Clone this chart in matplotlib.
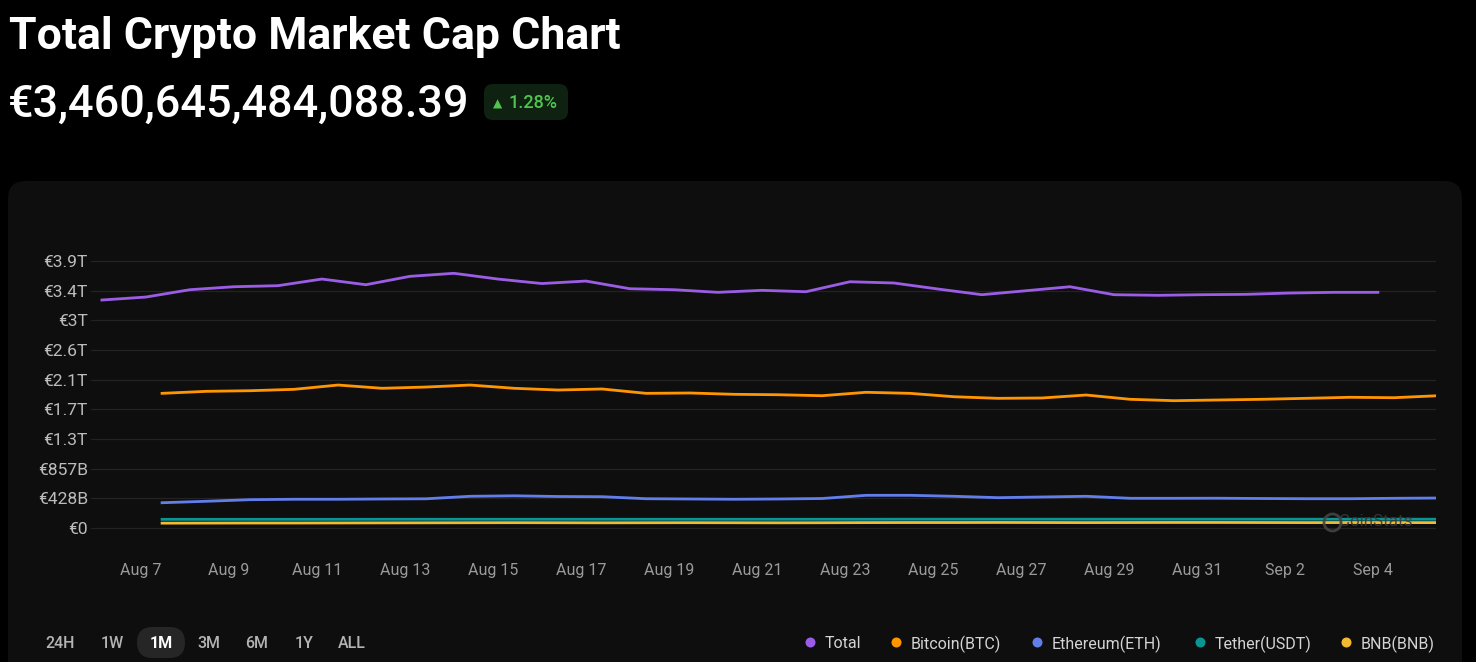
import matplotlib
matplotlib.use("Agg")
import matplotlib.pyplot as plt
import matplotlib.dates as mdates
from matplotlib.patches import FancyBboxPatch
from matplotlib.lines import Line2D
import pandas as pd

plt.rcParams['font.family'] = ['Roboto', 'DejaVu Sans']

# ---------------- data ----------------
title = "Total Crypto Market Cap Chart"
price_text = "€3,460,645,484,088.39"
change_text = "1.28%"

series_names = ["Total", "Bitcoin(BTC)", "Ethereum(ETH)", "Tether(USDT)", "BNB(BNB)"]
series_colors = ["#9b5de5", "#ff9500", "#627eea", "#0a9592", "#f3ba2f"]

total_dates = pd.date_range("2025-08-06 02:40", periods=30, freq="D")
coin_dates = pd.date_range("2025-08-07 11:30", periods=30, freq="D")

total_T = [3.293, 3.336, 3.442, 3.485, 3.500, 3.596, 3.514, 3.635, 3.679, 3.596,
           3.531, 3.567, 3.456, 3.442, 3.404, 3.433, 3.413, 3.557, 3.539, 3.452,
           3.370, 3.427, 3.485, 3.370, 3.361, 3.370, 3.375, 3.394, 3.404, 3.404]
btc_T = [1.945, 1.974, 1.983, 2.003, 2.065, 2.018, 2.036, 2.065, 2.018, 1.993,
         2.008, 1.945, 1.950, 1.931, 1.925, 1.911, 1.960, 1.945, 1.896, 1.873,
         1.878, 1.921, 1.859, 1.839, 1.849, 1.859, 1.873, 1.888, 1.882, 1.911]
eth_B = [365, 386, 409, 415, 415, 419, 422, 458, 465, 455,
         452, 423, 419, 415, 419, 426, 472, 472, 458, 438,
         448, 458, 429, 429, 430, 426, 423, 423, 429, 433]
usdt_B = [125, 125, 125, 125, 125, 126, 126, 126, 126, 126,
          126, 126, 126, 126, 126, 126, 126, 127, 127, 127,
          127, 127, 127, 127, 127, 127, 127, 127, 127, 127]
bnb_B = [70, 71, 72, 72, 73, 74, 75, 76, 77, 76,
         75, 76, 77, 76, 75, 76, 78, 79, 79, 80,
         79, 78, 79, 80, 80, 79, 78, 79, 78, 78]

y_tick_values = [i * 428.57e9 for i in range(10)]
y_tick_labels = ["€0", "€428B", "€857B", "€1.3T", "€1.7T", "€2.1T", "€2.6T", "€3T", "€3.4T", "€3.9T"]
x_tick_dates = pd.date_range("2025-08-07", "2025-09-04", freq="2D")
x_tick_labels = ["Aug 7", "Aug 9", "Aug 11", "Aug 13", "Aug 15", "Aug 17", "Aug 19", "Aug 21",
                 "Aug 23", "Aug 25", "Aug 27", "Aug 29", "Aug 31", "Sep 2", "Sep 4"]
range_buttons = ["24H", "1W", "1M", "3M", "6M", "1Y", "ALL"]
selected_button = "1M"

# ---------------- figure ----------------
W, H = 1476, 662
DPI = 100
fig = plt.figure(figsize=(W / DPI, H / DPI), dpi=DPI, facecolor="#000000")

def fx(px):
    return px / W

def fy(py):
    return 1 - py / H

def pt(px):
    return px * 72 / DPI

# panel
panel = FancyBboxPatch((fx(8), fy(700)), fx(1462) - fx(8), fy(181) - fy(700),
                       boxstyle="round,pad=0,rounding_size=0.012",
                       transform=fig.transFigure, facecolor="#0e0e0e",
                       edgecolor="none", zorder=-5, mutation_aspect=W / H)
fig.patches.append(panel)

# title and price
fig.text(fx(9), fy(49), title, color="white", fontsize=pt(44.6), fontweight="bold",
         va="baseline", ha="left")
fig.text(fx(8), fy(117), price_text, color="white", fontsize=pt(45), fontweight="medium",
         va="baseline", ha="left")
badge = FancyBboxPatch((fx(484), fy(120)), fx(568) - fx(484), fy(84) - fy(120),
                       boxstyle="round,pad=0,rounding_size=0.006",
                       transform=fig.transFigure, facecolor="#0f2110",
                       edgecolor="none", zorder=-1, mutation_aspect=W / H)
fig.patches.append(badge)
fig.text(fx(493), fy(108), "▲", color="#4fc54f", fontsize=pt(12),
         family=["DejaVu Sans"], va="baseline", ha="left")
fig.text(fx(509), fy(108), change_text, color="#4fc54f", fontsize=pt(18),
         fontweight="medium", va="baseline", ha="left")

# axes
ax_left, ax_right, ax_top, ax_bot = 91, 1436, 240, 535
ax = fig.add_axes([fx(ax_left), fy(ax_bot), fx(ax_right) - fx(ax_left), fy(ax_top) - fy(ax_bot)],
                  zorder=2)
ax.set_facecolor("none")
for s in ax.spines.values():
    s.set_visible(False)

px_per_val = 29.67 / 428.57e9
ax.set_ylim(-(ax_bot - 528) / px_per_val, (528 - ax_top) / px_per_val)
d0 = mdates.date2num(pd.Timestamp("2025-08-07"))
ax.set_xlim(d0 - (141 - ax_left) / 44.0, d0 + (ax_right - 141) / 44.0)

ax.set_yticks(y_tick_values)
ax.set_yticklabels(y_tick_labels)
ax.set_xticks(mdates.date2num(x_tick_dates))
ax.set_xticklabels(x_tick_labels)
ax.tick_params(axis="y", length=0, pad=pt(3), labelsize=pt(17.5), labelcolor="#bcbcbc")
ax.tick_params(axis="x", length=0, pad=pt(28), labelsize=pt(16), labelcolor="#9a9a9a")
ax.yaxis.grid(True, color="#232323", linewidth=pt(1.2))
ax.xaxis.grid(False)
ax.set_axisbelow(True)

lw = pt(2.8)
ax.plot(mdates.date2num(total_dates), [v * 1e12 for v in total_T], color=series_colors[0], lw=lw, zorder=5, solid_joinstyle="round")
ax.plot(mdates.date2num(coin_dates), [v * 1e12 for v in btc_T], color=series_colors[1], lw=lw, zorder=5, solid_joinstyle="round")
ax.plot(mdates.date2num(coin_dates), [v * 1e9 for v in eth_B], color=series_colors[2], lw=lw, zorder=5, solid_joinstyle="round")
ax.plot(mdates.date2num(coin_dates), [v * 1e9 for v in usdt_B], color=series_colors[3], lw=lw, zorder=5)
ax.plot(mdates.date2num(coin_dates), [v * 1e9 for v in bnb_B], color=series_colors[4], lw=lw, zorder=5)

# watermark (drawn over the lines, semi transparent)
ax.text(0.928, 0.045, "CoinStats", transform=ax.transAxes, color="#3a3a3a", alpha=0.9,
        fontsize=pt(17), ha="left", va="center", zorder=7)
ax.plot([0.9225], [0.045], transform=ax.transAxes, marker="o", markersize=pt(17),
        markerfacecolor="none", markeredgecolor="#444444", markeredgewidth=2.0,
        alpha=0.9, linestyle="none", zorder=7)

# range buttons
btn_x = [60, 112, 161, 209, 257, 304, 352]
for lab, bx in zip(range_buttons, btn_x):
    if lab == selected_button:
        pill = FancyBboxPatch((fx(bx - 24), fy(658)), fx(48), fy(627) - fy(658),
                              boxstyle="round,pad=0,rounding_size=0.0105",
                              transform=fig.transFigure, facecolor="#262626",
                              edgecolor="none", zorder=-1, mutation_aspect=W / H)
        fig.patches.append(pill)
        fig.text(fx(bx), fy(644), lab, color="white", fontsize=pt(16), fontweight="bold",
                 ha="center", va="center")
    else:
        fig.text(fx(bx), fy(644), lab, color="#b4b4b4", fontsize=pt(16), fontweight="medium",
                 ha="center", va="center")

# legend
leg_dot_x = [810, 896, 1037, 1200, 1346]
for name, col, dx in zip(series_names, series_colors, leg_dot_x):
    fig.lines.append(Line2D([fx(dx)], [fy(642)], transform=fig.transFigure, marker="o",
                            markersize=pt(10), markerfacecolor=col, markeredgecolor="none",
                            linestyle="none"))
    fig.text(fx(dx + 15), fy(644), name, color="#d4d4d4", fontsize=pt(16),
             ha="left", va="center")

fig.savefig("out.png", dpi=DPI, facecolor="#000000")
